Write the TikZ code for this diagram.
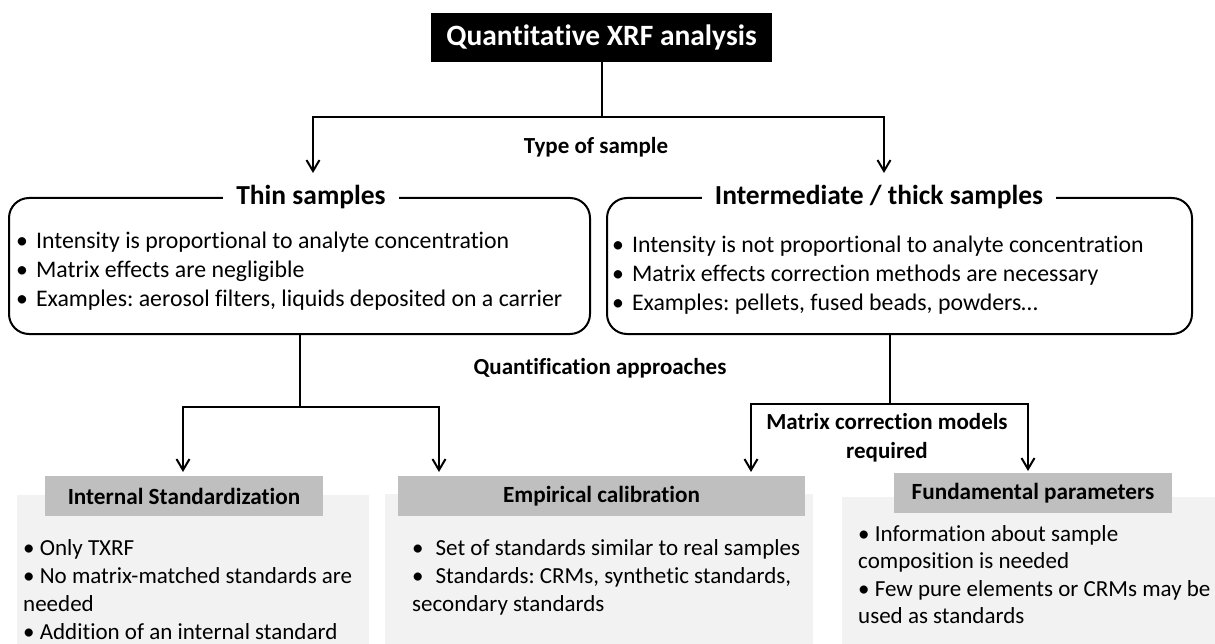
\documentclass[tikz,border=0pt]{standalone}
\usepackage{fontspec}
\setmainfont{Carlito}[Ligatures=CommonOff]
\usetikzlibrary{arrows.meta}
\usetikzlibrary{calc}
\definecolor{headgray}{HTML}{BFBFBF}
\definecolor{panelgray}{HTML}{F2F2F2}
\newcommand{\fsz}[2]{\fontsize{#1}{#2}\selectfont}
\frenchspacing

\begin{document}
\begin{tikzpicture}[x=1pt, y=-1pt,
  conn/.style={black, line width=2pt},
  arr/.style={conn, -{Straight Barb[length=11pt,width=13pt]}},
  titlebox/.style={fill=black, text=white, minimum width=341, minimum height=49, font=\fsz{29.5}{35}\bfseries},
  lbl/.style={inner sep=0, font=\fsz{23}{29}\bfseries},
  sbox/.style={draw, line width=2pt, rounded corners=20pt, minimum height=136},
  boxttl/.style={fill=white, inner xsep=13pt, inner ysep=0, font=\fsz{27.5}{32}\bfseries},
  txt/.style={anchor=base west, inner sep=0, font=\fsz{23.8}{28}},
  panel/.style={fill=panelgray, inner sep=0},
  head/.style={fill=headgray, minimum height=40, font=\fsz{23.2}{28}\bfseries}]
\useasboundingbox (0,0) rectangle (1215,644);

\node[titlebox] (xrf) at (601.5,37.5) {Quantitative XRF analysis};
\node[lbl] (typelbl) at (596,147) {Type of sample};
\coordinate (split1) at (601.5,117);
\coordinate (typeL) at (313,173);
\coordinate (typeR) at (884,173);
\draw[conn] (xrf.south) -- (split1);
\draw[arr] (split1) -| (typeL);
\draw[arr] (split1) -| (typeR);

\node[sbox, minimum width=581] (thin) at (299.5,266) {};
\node[boxttl] (thinttl) at (311,197) {Thin samples};
\node[sbox, minimum width=585] (inter) at (899.5,266) {};
\node[boxttl] (interttl) at (879,197) {Intermediate / thick samples};
\foreach \itm [count=\i] in {Intensity is proportional to analyte concentration, Matrix effects are negligible, {Examples: aerosol filters, liquids deposited on a carrier}}
  \node[txt] (thin\i) at (16,220.5+28.5*\i) {•\hspace{8pt}\itm};
\foreach \itm [count=\i] in {Intensity is not proportional to analyte concentration, Matrix effects correction methods are necessary, {Examples: pellets, fused beads, powders…}}
  \node[txt] (inter\i) at (612,224.5+28.5*\i) {•\hspace{8pt}\itm};

\node[lbl] (quantlbl) at (600,368) {Quantification approaches};
\coordinate (split2) at (299.5,407);
\coordinate (istdT) at (183,472);
\coordinate (ecalL) at (439,472);
\draw[conn] (thin.south) -- (split2);
\draw[arr] (split2) -| (istdT);
\draw[arr] (split2) -| (ecalL);

\node[lbl, align=center] (matrixlbl) at (887,437.5) {Matrix correction models\\required};
\coordinate (split3) at (890,404);
\coordinate (ecalR) at (751,472);
\coordinate (fundT) at (1028,471);
\draw[conn] (split3 |- inter.south) -- (split3);
\draw[arr] (split3) -| (ecalR);
\draw[arr] (split3) -| (fundT);

\node[panel, minimum width=352, minimum height=149] (istdbg) at (193,569.5) {};
\node[panel, minimum width=428, minimum height=150] (ecalbg) at (599,569) {};
\node[panel, minimum width=373, minimum height=147] (fundbg) at (1028.5,570.5) {};
\node[head, minimum width=278] (istd) at (184,496) {Internal Standardization};
\node[head, minimum width=407] (ecal) at (601.5,496) {Empirical calibration};
\node[head, minimum width=278] (fund) at (1033,493) {Fundamental parameters};

\foreach \itm [count=\i] in {• Only TXRF, • No matrix-matched standards are, needed, • Addition of an internal standard}
  \node[txt, font=\fsz{23}{28}] (istd\i) at (23,527+28*\i) {\itm};
\foreach \itm [count=\i] in {•\hspace{12pt}Set of standards similar to real samples, {•\hspace{12pt}Standards: CRMs, synthetic standards,}, secondary standards}
  \node[txt, font=\fsz{23}{28}] (ecal\i) at (412,527+28*\i) {\itm};
\foreach \itm [count=\i] in {• Information about sample, composition is needed, • Few pure elements or CRMs may be, used as standards}
  \node[txt, font=\fsz{23}{28}] (fund\i) at (858,513.4+27.6*\i) {\itm};
\end{tikzpicture}
\end{document}
